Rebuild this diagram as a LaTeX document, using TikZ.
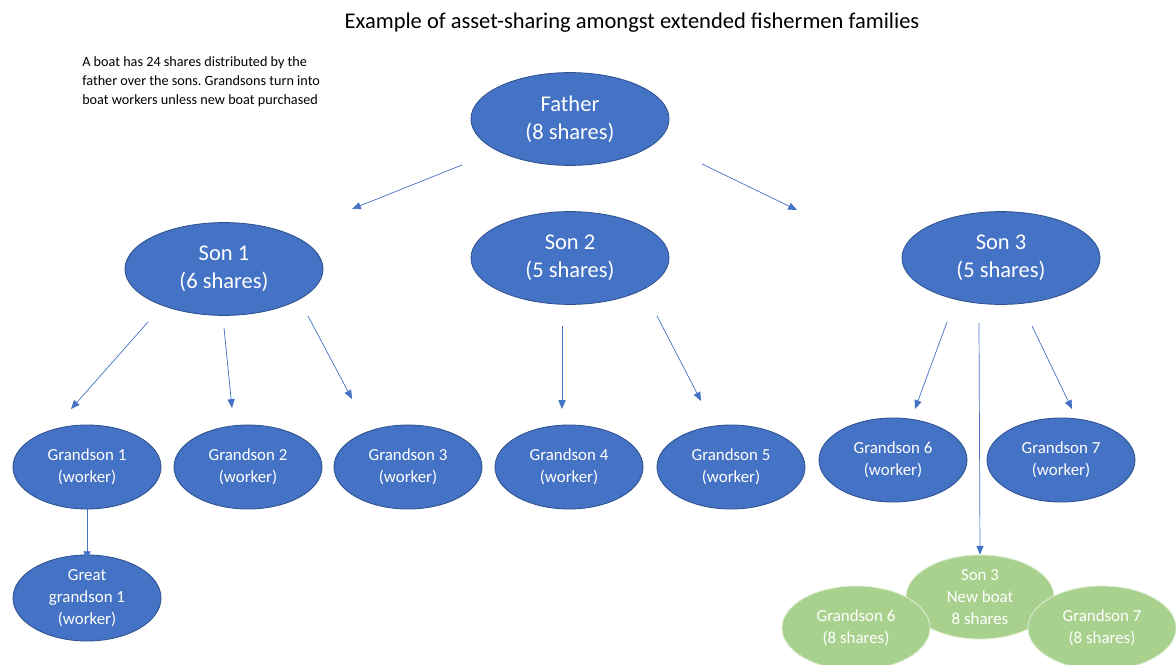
\documentclass[tikz,border=0pt]{standalone}
\usepackage{fontspec}
\setmainfont{Carlito}
\usepackage{xcolor}
\usetikzlibrary{shapes.geometric,arrows.meta}

\definecolor{boatblue}{HTML}{4472C4}
\definecolor{boatedge}{HTML}{2F528F}
\definecolor{boatgreen}{HTML}{A9D18E}

\begin{document}
\frenchspacing
\begin{tikzpicture}[x=0.025cm,y=-0.025cm,
    elder/.style={ellipse,fill=boatblue,draw=boatedge,line width=0.6pt,inner sep=0pt,
        minimum width=4.95cm,minimum height=2.32cm,text=white,align=center,
        font=\fontsize{16}{20}\selectfont},
    kid/.style={ellipse,fill=boatblue,draw=boatedge,line width=0.6pt,inner sep=0pt,
        minimum width=3.7cm,minimum height=2.1cm,text=white,align=center,
        font=\fontsize{12}{15.8}\selectfont},
    newboat/.style={kid,fill=boatgreen,draw=white!60!boatgreen},
    link/.style={draw=boatblue,line width=0.5pt,-{Triangle[length=2.2mm,width=1.8mm]}}]

    \useasboundingbox (0,0) rectangle (1176,664);

    % heading and note
    \node (title) at (632,23) {\fontsize{16}{19}\selectfont Example of asset-sharing amongst extended fishermen families};
    \node[anchor=north west,align=left,inner sep=0pt,font=\fontsize{10.1}{13.5}\selectfont] (note) at (82,56)
        {A boat has 24 shares distributed by the\\father over the sons. Grandsons turn into\\boat workers unless new boat purchased};

    % father and sons
    \node[elder] (father) at (570,119) {Father\\(8 shares)};
    \node[elder] (son1) at (224,269) {Son 1\\(6 shares)};
    \node[elder] (son2) at (570,258) {Son 2\\(5 shares)};
    \node[elder] (son3) at (1001,258) {Son 3\\(5 shares)};

    % grandsons
    \node[kid] (gs1) at (87,467) {Grandson 1\\(worker)};
    \node[kid] (gs2) at (248,467) {Grandson 2\\(worker)};
    \node[kid] (gs3) at (408,467) {Grandson 3\\(worker)};
    \node[kid] (gs4) at (569,467) {Grandson 4\\(worker)};
    \node[kid] (gs5) at (731,467) {Grandson 5\\(worker)};
    \node[kid] (gs6) at (893,460) {Grandson 6\\(worker)};
    \node[kid] (gs7) at (1061,460) {Grandson 7\\(worker)};
    \node[kid,minimum height=2.15cm] (ggs1) at (87,598) {Great\\grandson 1\\(worker)};

    % new boat of son 3
    \node[newboat] (nb) at (980,597) {Son 3\\New boat\\8 shares};
    \node[newboat] (nb6) at (856,628) {Grandson 6\\(8 shares)};
    \node[newboat] (nb7) at (1102,628) {Grandson 7\\(8 shares)};

    % arrow ends (they stop short of the ellipses)
    \coordinate (f1a) at (462,165);  \coordinate (f1b) at (352,209);
    \coordinate (f3a) at (702,164);  \coordinate (f3b) at (797,210);
    \coordinate (s1a) at (148,322);  \coordinate (s1b) at (71,409);
    \coordinate (s2a) at (224,328);  \coordinate (s2b) at (232,408);
    \coordinate (s3a) at (308,316);  \coordinate (s3b) at (352,399);
    \coordinate (s4a) at (562,326);  \coordinate (s4b) at (562,409);
    \coordinate (s5a) at (657,316);  \coordinate (s5b) at (701,401);
    \coordinate (s6a) at (947,322);  \coordinate (s6b) at (915,409);
    \coordinate (s7a) at (1032,326); \coordinate (s7b) at (1072,409);
    \coordinate (nba) at (979,323);

    \draw[link] (f1a) -- (f1b);
    \draw[link] (f3a) -- (f3b);
    \foreach \k in {1,...,7}
        \draw[link] (s\k a) -- (s\k b);
    \draw[link] (nba) -- (nb.north);
    \draw[link] (gs1.south) -- ([yshift=-4pt]ggs1.north);
\end{tikzpicture}
\end{document}
